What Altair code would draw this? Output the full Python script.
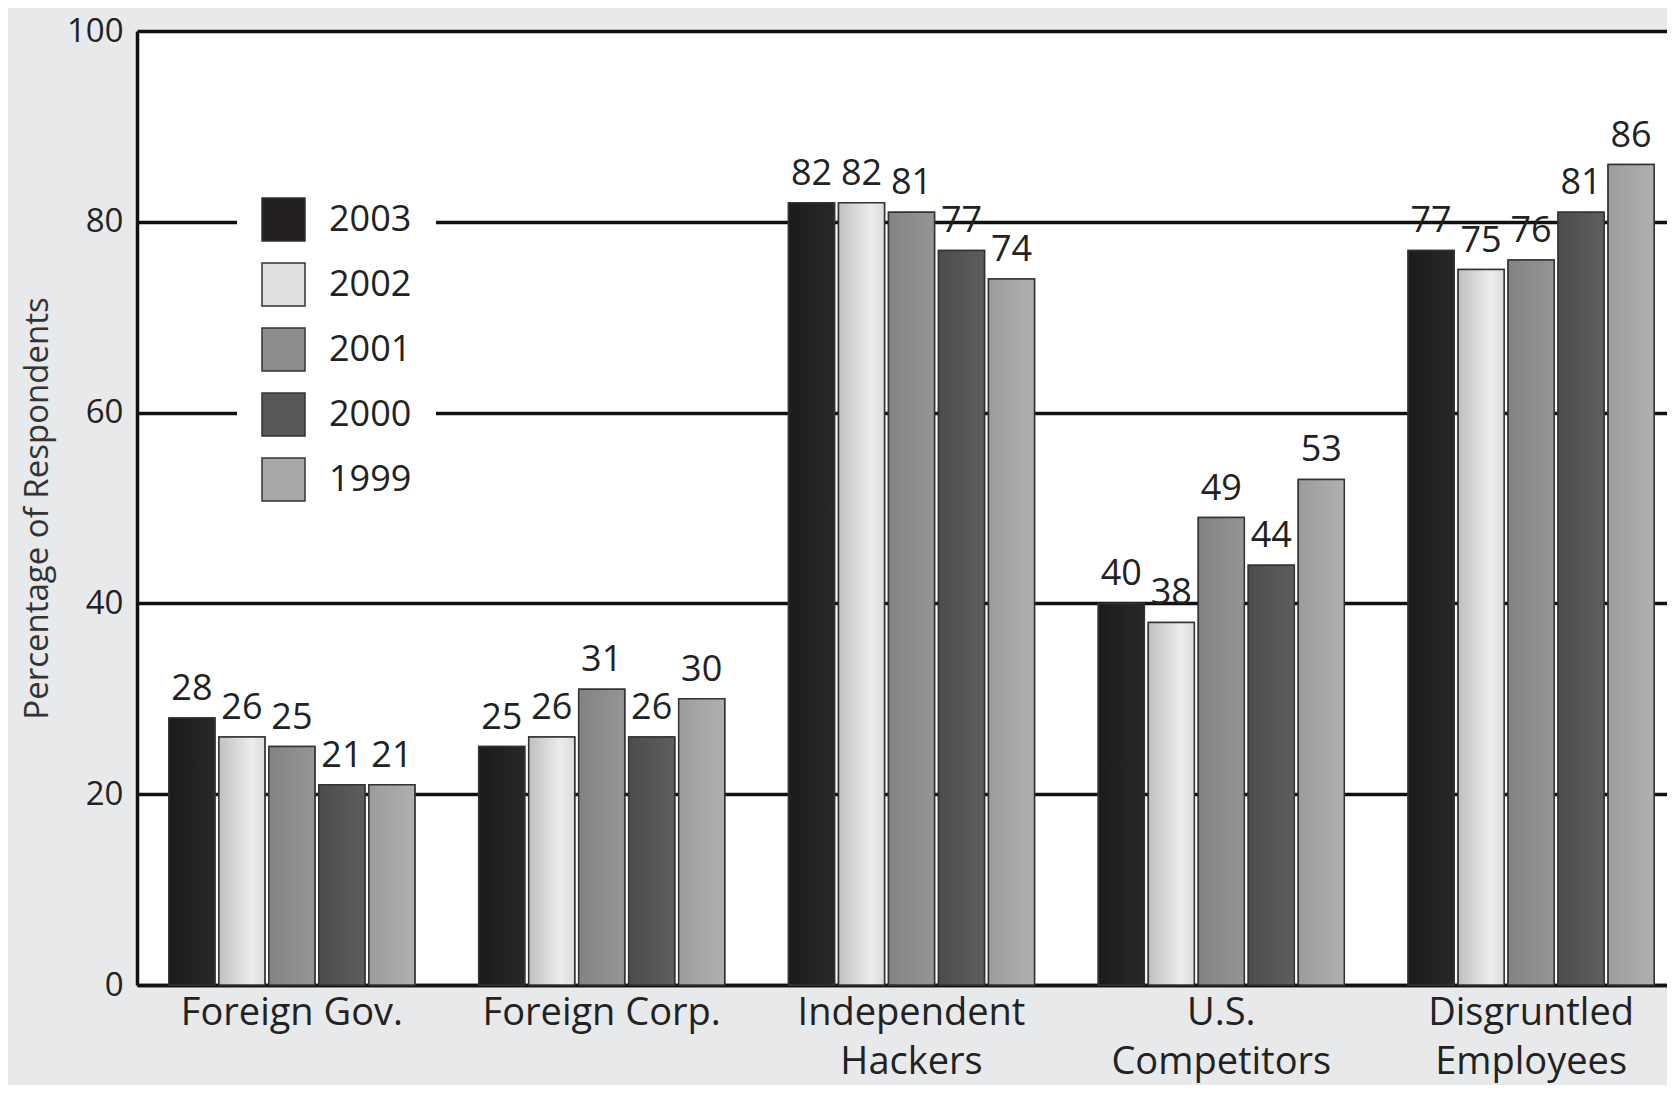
import altair as alt
import pandas as pd

categories = ["Foreign Gov.", "Foreign Corp.", "Independent Hackers", "U.S. Competitors", "Disgruntled Employees"]
years = ["2003", "2002", "2001", "2000", "1999"]
v2003 = [28, 25, 82, 40, 77]
v2002 = [26, 26, 82, 38, 75]
v2001 = [25, 31, 81, 49, 76]
v2000 = [21, 26, 77, 44, 81]
v1999 = [21, 30, 74, 53, 86]
series = {"2003": v2003, "2002": v2002, "2001": v2001, "2000": v2000, "1999": v1999}
y_ticks = [0, 20, 40, 60, 80, 100]

colors = ["#231f20", "#e0e0e0", "#8c8c8c", "#575757", "#a8a8a8"]
gradients = {
    "2003": [("#1c1a1b", 0), ("#2a2728", 1)],
    "2002": [("#c0c0c0", 0), ("#ececec", 0.7), ("#dcdcdc", 1)],
    "2001": [("#838383", 0), ("#959595", 1)],
    "2000": [("#4c4c4c", 0), ("#5e5e5e", 1)],
    "1999": [("#9c9c9c", 0), ("#b0b0b0", 1)],
}

rows = []
for y in years:
    for c, v in zip(categories, series[y]):
        rows.append({"category": c, "year": y, "value": v})
df = pd.DataFrame(rows)

FONT = "Open Sans"

x_enc = alt.X(
    "category:N",
    sort=categories,
    scale=alt.Scale(range=[0, 1549], paddingInner=0.206, paddingOuter=0.103),
    axis=alt.Axis(
        title=None,
        labelAngle=0,
        labelFont=FONT,
        labelFontSize=38,
        labelColor="#222222",
        labelPadding=9,
        labelLineHeight=49,
        labelLimit=0,
        labelExpr="indexof(datum.label, 'Foreign') == 0 ? datum.label : split(datum.label, ' ')",
        ticks=False,
        domainColor="#111111",
        domainWidth=3.5,
        labelBaseline="top",
    ),
)
xo_enc = alt.XOffset("year:N", sort=years, scale=alt.Scale(paddingInner=0.08, paddingOuter=0))
y_enc = alt.Y(
    "value:Q",
    scale=alt.Scale(domain=[0, 100], nice=False),
    axis=alt.Axis(
        values=y_ticks,
        title="Percentage of Respondents",
        titleFont=FONT,
        titleFontSize=33,
        titleFontWeight="normal",
        titleColor="#333333",
        titlePadding=12,
        labelFont=FONT,
        labelFontSize=33,
        labelColor="#222222",
        labelPadding=14,
        ticks=False,
        grid=True,
        gridColor="#111111",
        gridWidth=3.5,
        gridOpacity=1,
        domainColor="#111111",
        domainWidth=3.5,
    ),
)

base = alt.Chart(df).encode(x=x_enc, xOffset=xo_enc, y=y_enc)

layers = []
for off, op in [(5, 0.10), (12, 0.07), (20, 0.04)]:
    layers.append(base.mark_bar(color="black", opacity=op, xOffset=off))

main = base.mark_bar(stroke="#333333", strokeWidth=1.5).encode(
    color=alt.Color(
        "year:N",
        sort=years,
        scale=alt.Scale(domain=years, range=colors),
        legend=alt.Legend(
            title=None,
            orient="none",
            legendX=100,
            legendY=142,
            symbolType="square",
            symbolSize=1849,
            symbolStrokeColor="#333333",
            symbolStrokeWidth=1.5,
            symbolOpacity=1,
            labelFont=FONT,
            labelFontSize=36,
            labelColor="#222222",
            labelOffset=23,
            rowPadding=16,
            padding=24,
            fillColor="white",
        ),
    )
)
layers.append(main)

for y in years:
    stops = [alt.GradientStop(color=c, offset=o) for c, o in gradients[y]]
    layers.append(
        base.mark_bar(
            fill=alt.Gradient(gradient="linear", stops=stops, x1=0, x2=1, y1=0, y2=0),
            stroke="#333333",
            strokeWidth=1.5,
        ).transform_filter(alt.datum.year == y)
    )

labels = base.mark_text(
    font=FONT, fontSize=36, color="#222222", baseline="alphabetic", dy=-18
).encode(text="value:Q")
layers.append(labels)

chart = (
    alt.layer(*layers)
    .properties(
        width=1530,
        height=954,
        autosize=alt.AutoSizeParams(type="none"),
        padding={"left": 129, "top": 23, "right": 0, "bottom": 100},
        background="#e8e9eb",
    )
    .configure_view(fill="white", stroke=None)
)

chart.save("out.html", embed_options={"renderer": "svg", "actions": False})
